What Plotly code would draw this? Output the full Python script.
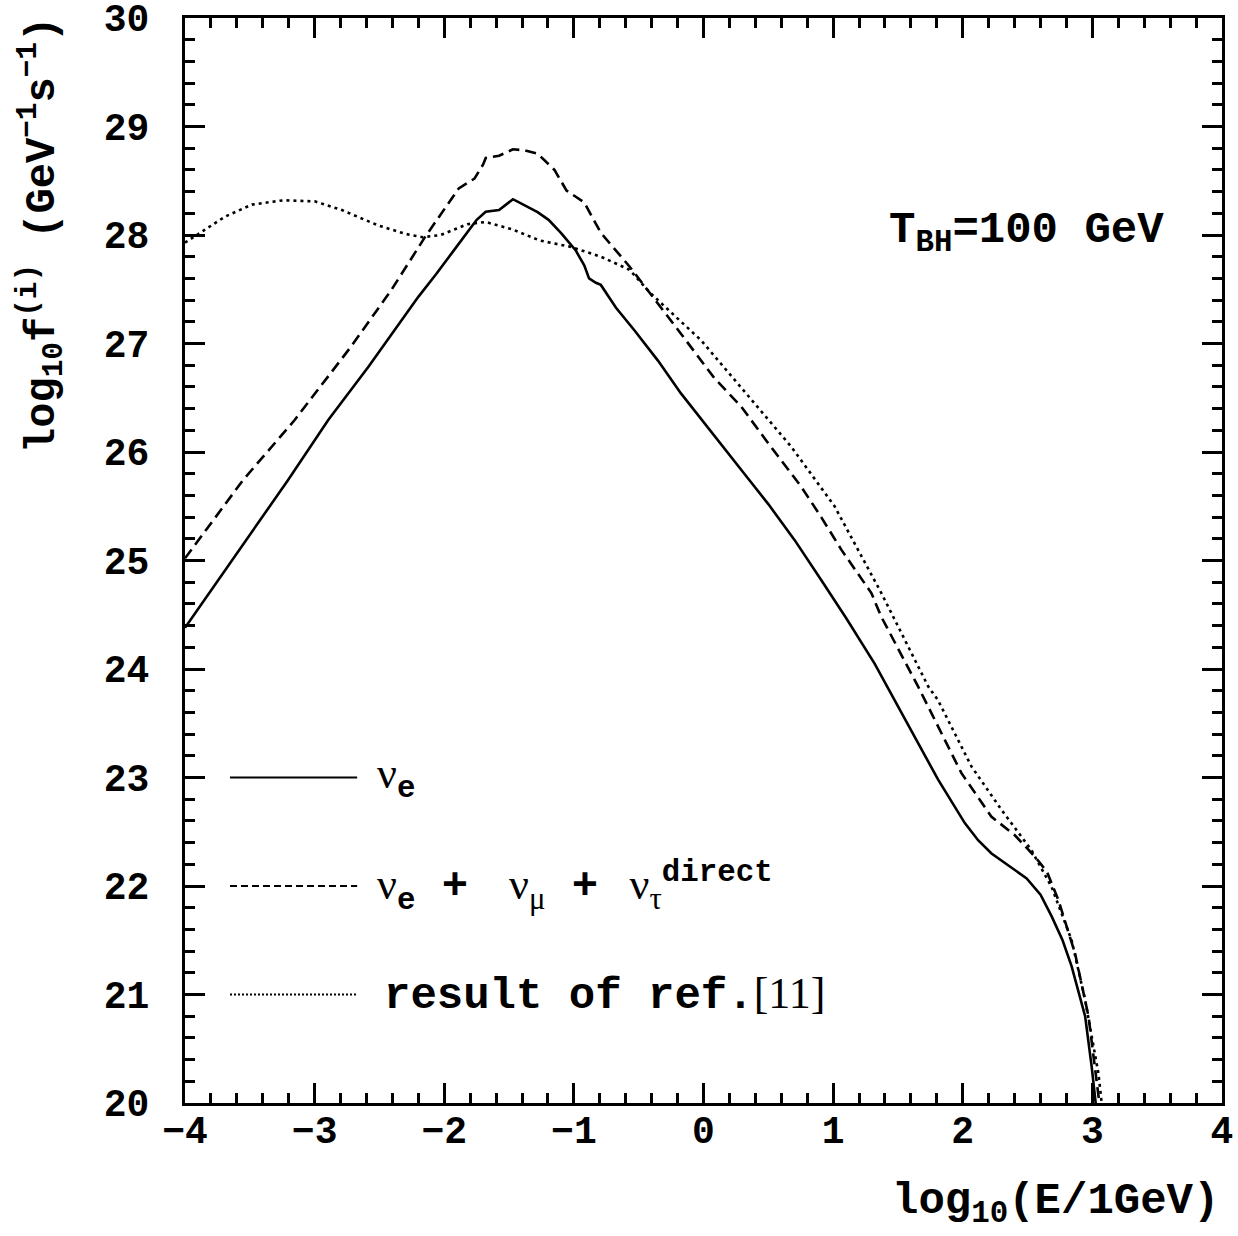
import plotly.graph_objects as go

# nu_e (solid)
x_nue = [-4.0, -3.6, -3.206, -2.895, -2.582, -2.2, -2.062, -1.9, -1.75, -1.68, -1.577, -1.47,
         -1.38, -1.28, -1.195, -1.1, -0.987, -0.92, -0.883, -0.83, -0.792, -0.675, -0.535,
         -0.35, -0.174, 0.0, 0.315, 0.5, 0.702, 0.908, 1.10, 1.32, 1.475, 1.604, 1.81, 2.016,
         2.12, 2.222, 2.35, 2.493, 2.6, 2.686, 2.77, 2.84, 2.944, 2.995, 3.03]
y_nue = [24.38, 25.06, 25.74, 26.295, 26.79, 27.43, 27.64, 27.90, 28.14, 28.215, 28.23, 28.33,
         28.27, 28.21, 28.14, 28.02, 27.86, 27.72, 27.60, 27.56, 27.54, 27.33, 27.125,
         26.84, 26.54, 26.28, 25.80, 25.52, 25.19, 24.82, 24.47, 24.05, 23.71, 23.44, 22.98, 22.58,
         22.42, 22.30, 22.19, 22.07, 21.92, 21.72, 21.50, 21.26, 20.80, 20.33, 19.95]

# nu_e + nu_mu + nu_tau direct (dashed)
x_sum = [-4.0, -3.553, -3.154, -2.72, -2.41, -2.149, -1.888, -1.767, -1.7, -1.68, -1.577, -1.47,
         -1.38, -1.28, -1.15, -1.057, -0.92, -0.883, -0.792, -0.571, -0.483, -0.174, 0.084, 0.29,
         0.5, 0.754, 0.908, 1.063, 1.295, 1.372, 1.655, 1.99, 2.22, 2.4, 2.557, 2.65, 2.738,
         2.866, 2.97, 3.047, 3.075]
y_sum = [25.02, 25.74, 26.295, 26.97, 27.49, 27.98, 28.43, 28.52, 28.65, 28.71, 28.73, 28.79,
         28.78, 28.75, 28.60, 28.41, 28.30, 28.22, 28.02, 27.71, 27.57, 27.09, 26.68, 26.42,
         26.08, 25.68, 25.40, 25.10, 24.70, 24.48, 23.84, 23.04, 22.64, 22.47, 22.27, 22.13, 21.87,
         21.38, 20.80, 20.03, 19.8]

# result of ref.[11] (dotted)
x_ref = [-4.0, -3.85, -3.69, -3.484, -3.24, -2.998, -2.79, -2.513, -2.3, -2.166, -2.027, -1.82,
         -1.681, -1.47, -1.265, -1.022, -0.792, -0.571, -0.406, -0.019, 0.367, 0.676, 1.011,
         1.372, 1.733, 1.81, 2.068, 2.3, 2.53, 2.686, 2.84, 2.944, 3.047, 3.09]
y_ref = [27.93, 28.05, 28.17, 28.28, 28.32, 28.31, 28.23, 28.09, 28.01, 27.98, 28.0, 28.10,
         28.12, 28.05, 27.95, 27.89, 27.80, 27.68, 27.46, 27.03, 26.48, 26.05, 25.50,
         24.70, 23.84, 23.71, 23.10, 22.70, 22.33, 21.99, 21.5, 20.95, 20.27, 19.8]

x_ticks = [-4, -3, -2, -1, 0, 1, 2, 3, 4]
y_ticks = [20, 21, 22, 23, 24, 25, 26, 27, 28, 29, 30]

MONO = "Liberation Mono"
SERIF = "Liberation Serif"
LW = 2.6

fig = go.Figure()
fig.add_trace(go.Scatter(x=x_nue, y=y_nue, mode="lines", line=dict(color="black", width=LW), showlegend=False))
fig.add_trace(go.Scatter(x=x_sum, y=y_sum, mode="lines", line=dict(color="black", width=LW, dash="11px,6px"), showlegend=False))
fig.add_trace(go.Scatter(x=x_ref, y=y_ref, mode="lines", line=dict(color="black", width=LW, dash="3px,4px"), showlegend=False))

axis_common = dict(
    showline=True, linecolor="black", linewidth=3, mirror="ticks",
    ticks="inside", ticklen=20, tickwidth=2.5, tickcolor="black",
    showgrid=False, zeroline=False, ticklabeloverflow="allow", automargin=False,
    tickfont=dict(family=MONO, size=38, color="black", weight="bold"),
)

fig.update_xaxes(range=[-4, 4], tickvals=x_ticks, ticktext=[("\u2212%d" % -v) if v < 0 else str(v) for v in x_ticks],
                 minor=dict(dtick=0.2, tick0=0, ticks="inside", ticklen=10, tickwidth=2.5, tickcolor="black"),
                 ticklabelstandoff=-9, **axis_common)
fig.update_yaxes(range=[20, 30], tickvals=y_ticks,
                 minor=dict(dtick=0.2, tick0=0, ticks="inside", ticklen=10, tickwidth=2.5, tickcolor="black"),
                 ticklabelstandoff=25, **axis_common)

# legend sample lines
for yp, dash in [(0.3, "solid"), (0.2, "7px,4px"), (0.1, "2px,2px")]:
    fig.add_shape(type="line", xref="paper", yref="paper", x0=0.0434, x1=0.166, y0=yp, y1=yp,
                  line=dict(color="black", width=2.2, dash=dash))

nu = '<span style="font-family:%s;font-weight:normal">ν</span>' % SERIF
mu = '<span style="font-family:%s;font-weight:normal">μ</span>' % SERIF
tau = '<span style="font-family:%s;font-weight:normal">τ</span>' % SERIF
gap1 = '<span style="font-size:24px"> </span>'
gap2 = '<span style="font-size:8px"> </span>'
txtfont = dict(family=MONO, size=44, color="black", weight="bold")

fig.add_annotation(xref="paper", yref="paper", x=0.183, y=0.3, xanchor="left", yanchor="middle",
                   text=nu + "<sub>e</sub>", showarrow=False, font=txtfont)
fig.add_annotation(xref="paper", yref="paper", x=0.183, y=0.2, xanchor="left", yanchor="middle",
                   text=nu + "<sub>e</sub> +" + gap1 + " " + nu + "<sub>" + mu + "</sub> +" + gap2 + " " + nu
                        + "<sub>" + tau + "</sub><sup>direct</sup>",
                   showarrow=False, font=txtfont)
fig.add_annotation(xref="paper", yref="paper", x=0.19, y=0.1, xanchor="left", yanchor="middle",
                   text='result of ref.<span style="font-family:%s;font-weight:normal">[11]</span>' % SERIF,
                   showarrow=False, font=txtfont)
fig.add_annotation(xref="paper", yref="paper", x=0.677, y=0.802, xanchor="left", yanchor="middle",
                   text="T<sub>BH</sub>=100 GeV", showarrow=False, font=txtfont)

# axis titles
fig.add_annotation(xref="paper", yref="paper", x=0.999, y=-0.093, xanchor="right", yanchor="middle",
                   text="log<sub>10</sub>(E/1GeV)", showarrow=False, font=txtfont)
fig.add_annotation(xref="paper", yref="paper", x=-0.138, y=0.80, xanchor="center", yanchor="middle",
                   textangle=-90, text="log<sub>10</sub>f<sup>(i)</sup> (GeV<sup>\u22121</sup>s<sup>\u22121</sup>)",
                   showarrow=False, font=dict(family=MONO, size=42, color="black", weight="bold"))

fig.update_layout(width=1238, height=1236, margin=dict(l=185, r=16, t=18, b=133, autoexpand=False),
                  paper_bgcolor="white", plot_bgcolor="white", showlegend=False)

fig.write_html("out.html")
